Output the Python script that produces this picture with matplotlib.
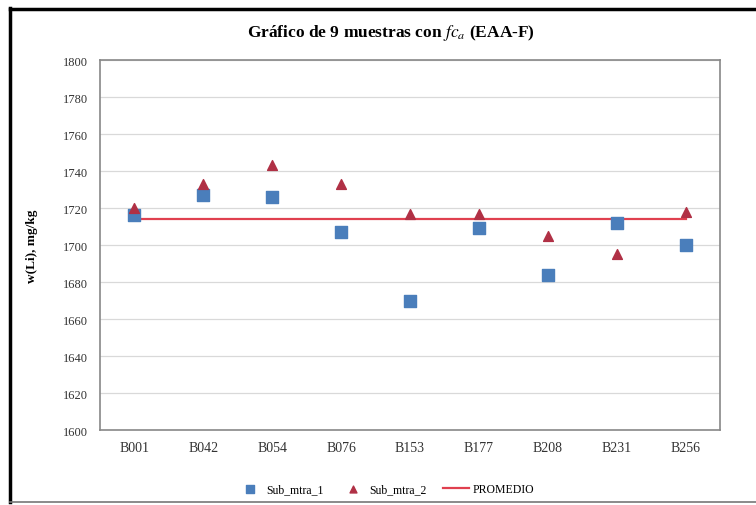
import matplotlib.pyplot as plt
from matplotlib.lines import Line2D

# sample data
muestras = ['B001', 'B042', 'B054', 'B076', 'B153', 'B177', 'B208', 'B231', 'B256']
sub_mtra_1 = [1716, 1727, 1726, 1707, 1670, 1709, 1684, 1712, 1700]
sub_mtra_2 = [1720, 1733, 1743, 1733, 1717, 1717, 1705, 1695, 1718]
promedio = [1714] * len(muestras)

plt.rcParams['font.family'] = ['Liberation Serif', 'DejaVu Serif']
plt.rcParams['mathtext.fontset'] = 'stix'

fig = plt.figure(figsize=(7.56, 5.06), dpi=100)
ax = fig.add_axes([0.1323, 0.1482, 0.8201, 0.7312])

x = range(len(muestras))
ax.plot(x, promedio, color='#E0404F', lw=1.6, label='PROMEDIO', zorder=2)
ax.scatter(x, sub_mtra_1, marker='s', s=65, color='#4A7EBB', label='Sub_mtra_1', zorder=3)
ax.scatter(x, sub_mtra_2, marker='^', s=50, color='#B03045', label='Sub_mtra_2', zorder=4)

ax.set_xlim(-0.5, len(muestras) - 0.5)
ax.set_ylim(1600, 1800)
ax.set_yticks(range(1600, 1801, 20))
ax.set_xticks(list(x))
ax.set_xticklabels(muestras)
ax.tick_params(axis='both', length=0, colors='#333333')
ax.tick_params(axis='x', pad=8, labelsize=10)
ax.tick_params(axis='y', pad=8.5, labelsize=9)
ax.grid(axis='y', color='#D9D9D9', lw=0.9)
ax.set_axisbelow(True)
for sp in ax.spines.values():
    sp.set_color('#888888')
    sp.set_linewidth(1.2)

ax.set_ylabel('w(Li), mg/kg', fontsize=9.5, fontweight='bold')
ax.yaxis.set_label_coords(-0.10, 0.5)
fig.text(0.517, 1 - 33 / 506, r'Gráfico de 9 muestras con $fc_a$ (EAA-F)',
         fontsize=12.5, fontweight='bold', ha='center', va='center')

handles, labels = ax.get_legend_handles_labels()
order = [1, 2, 0]
fig.legend([handles[i] for i in order], [labels[i] for i in order],
           loc='center', bbox_to_anchor=(0.51, 0.031), ncol=3, frameon=False,
           fontsize=8.5, handlelength=2.2, columnspacing=1.4, handletextpad=0.3,
           markerscale=0.7)

# outer chart frame
fig.add_artist(Line2D([10 / 756, 10 / 756], [1 - 9 / 506, 1 - 503 / 506], color='black', lw=2.5))
fig.add_artist(Line2D([10 / 756, 1.0], [1 - 10 / 506, 1 - 10 / 506], color='black', lw=2.5))
fig.add_artist(Line2D([10 / 756, 1.0], [1 - 503 / 506, 1 - 503 / 506], color='#777777', lw=1.2))

fig.savefig('out.png', dpi=100)
